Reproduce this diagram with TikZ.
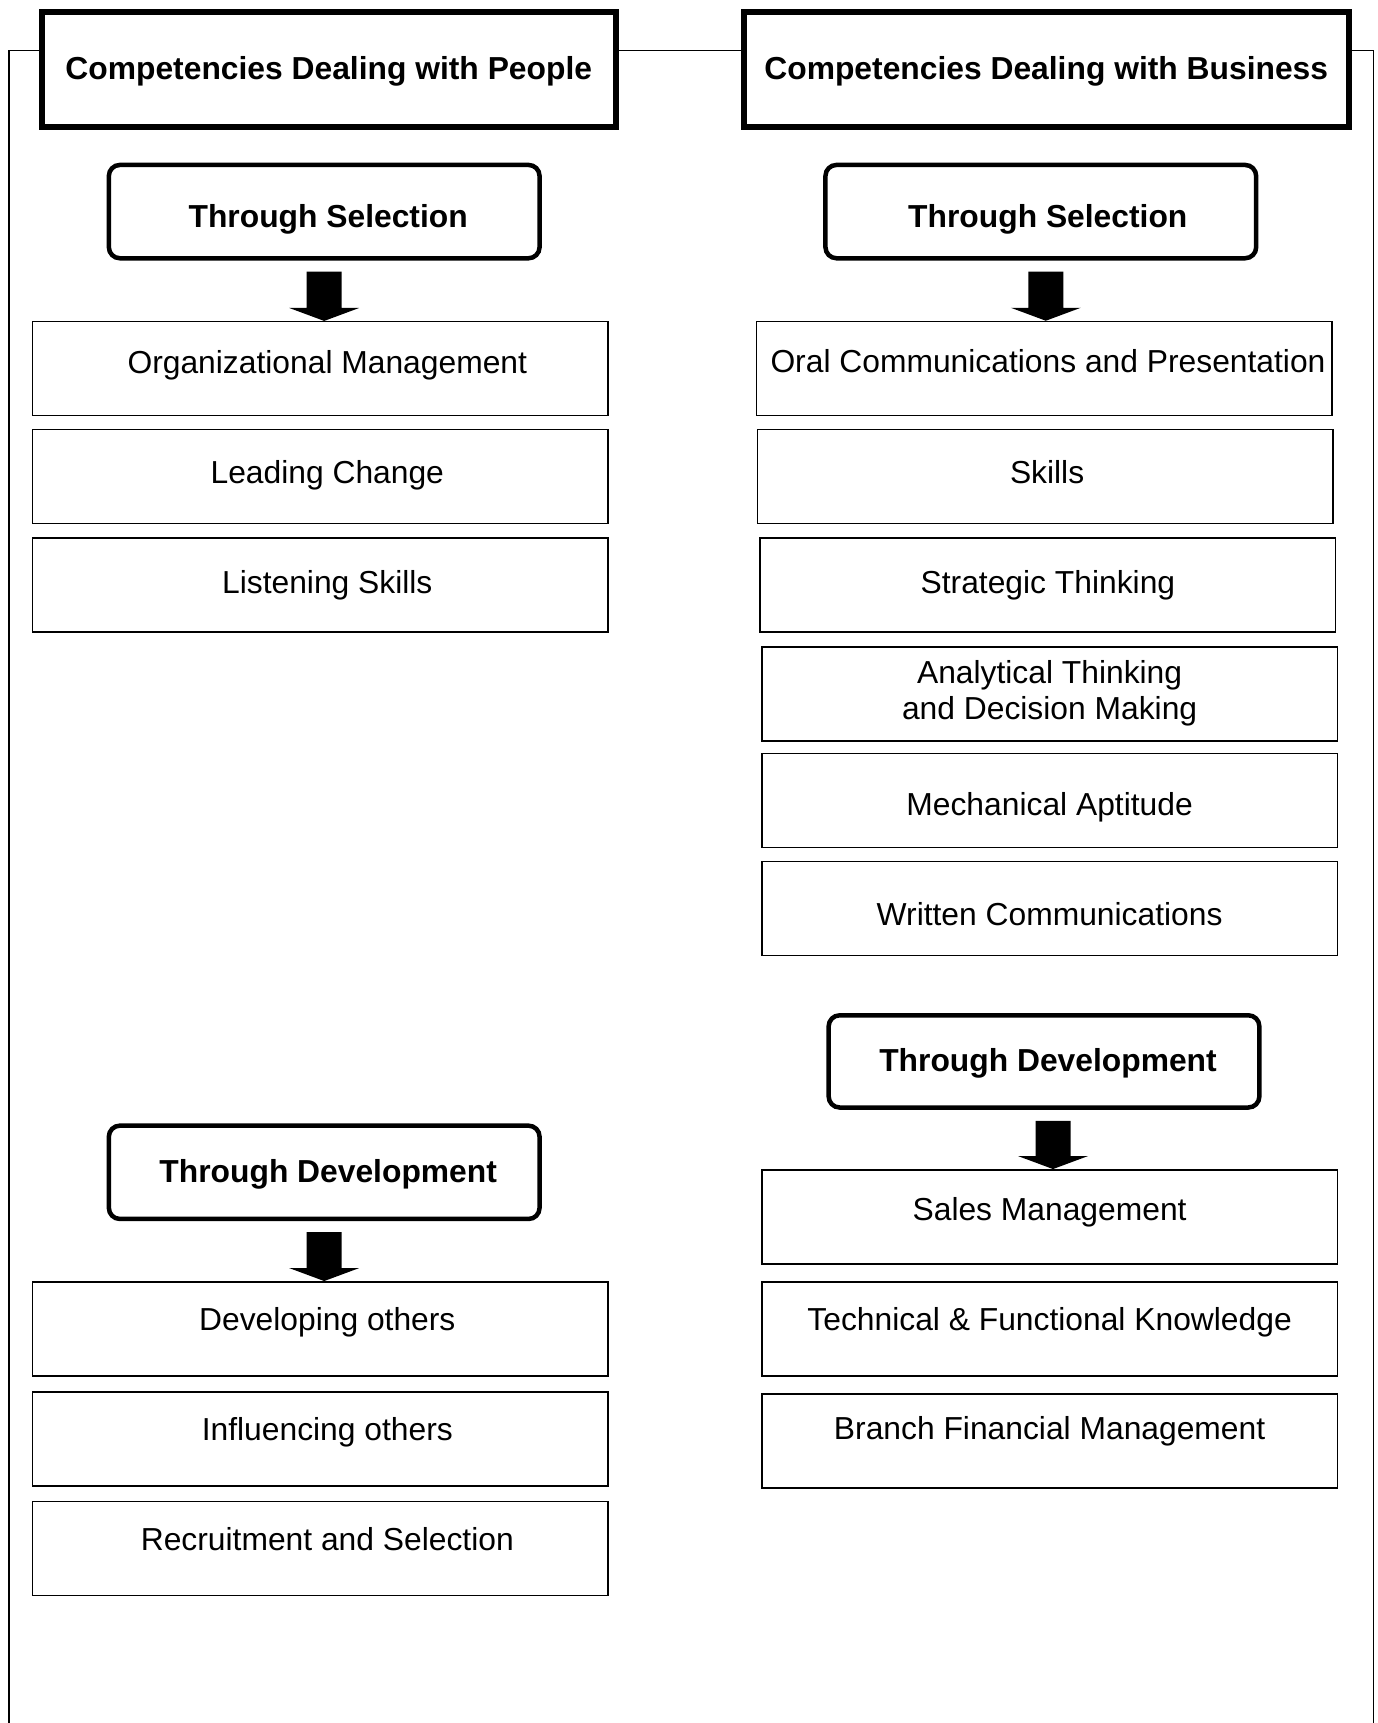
\documentclass[tikz,border=0pt]{standalone}
\usepackage{fontspec}
\setmainfont{Liberation Sans}
\usetikzlibrary{calc}
\tikzset{
  every node/.style={font=\fontsize{31.8}{38}\selectfont, align=center, inner sep=0pt},
  bl/.code={\pgfmathsetmacro\myH{30+(#1)}\pgfmathsetmacro\myD{30-(#1)}%
    \edef\mytmp{\noexpand\tikzset{text height=\myH pt,text depth=\myD pt}}\mytmp},
  header/.style={draw, line width=6pt, fill=white, minimum height=115pt, bl=10.3, font=\fontsize{31.8}{38}\selectfont\bfseries},
  stage/.style={draw, line width=4.5pt, rounded corners=11pt, fill=white, minimum width=430.7pt, minimum height=93.3pt, font=\fontsize{31.8}{38}\selectfont\bfseries},
  item/.style={draw, line width=1.5pt, fill=white, minimum width=575.5pt, minimum height=94pt},
  frame/.style={line width=1.3pt}
}
\newcommand\blockarrow[3]{%
  \coordinate (ba-top) at ($(#1.south)+(#3,11)$);
  \coordinate (ba-tip) at (ba-top |- #2.north);
  \fill ($(ba-top)+(-17.5,0)$) -- ($(ba-top)+(17.5,0)$) -- ($(ba-tip)+(17.5,-13)$) -- ($(ba-tip)+(35,-13)$) -- (ba-tip) -- ($(ba-tip)+(-35,-13)$) -- ($(ba-tip)+(-17.5,-13)$) -- cycle;
}
\begin{document}
\begin{tikzpicture}[x=1pt,y=-1pt]
\useasboundingbox (0,0) rectangle (1377,1723);
% outer frame
\coordinate (fbl) at (9,1723);
\coordinate (ftl) at (9,50.5);
\coordinate (ftr) at (1373.5,50.5);
\coordinate (fbr) at (1373.5,1723);
\draw[frame] (fbl) -- (ftl) -- (ftr) -- (fbr);
% headers
\node[header, minimum width=574.5pt] (hp) at (328.75,69.25) {Competencies Dealing with People};
\node[header, minimum width=605pt] (hb) at (1046.25,69.25) {Competencies Dealing with Business};
% left column
\node[stage, bl=15.5] (tsl) at (324.2,211.6) {\hspace*{8pt}Through Selection};
\node[item, bl=4.3] (om) at (320.3,368.7) {\hspace*{14pt}Organizational Management};
\node[item, bl=6.6] (lc) at (320.3,476.7) {\hspace*{14pt}Leading Change};
\node[item, bl=8.3] (ls) at (320.3,585) {\hspace*{14pt}Listening Skills};
\node[stage, bl=10.2] (tdl) at (324.2,1172.3) {\hspace*{8pt}Through Development};
\node[item, bl=1.2] (do) at (320.3,1328.8) {\hspace*{14pt}Developing others};
\node[item, bl=1.2] (io) at (320.3,1438.8) {\hspace*{14pt}Influencing others};
\node[item, bl=1.3] (rs) at (320.3,1548.7) {\hspace*{14pt}Recruitment and Selection};
% right column
\node[stage, bl=15.5] (tsr) at (1040.8,211.6) {\hspace*{14pt}Through Selection};
\node[item, bl=4.4] (oc) at (1044,368.5) {\hspace*{8pt}Oral Communications and Presentation};
\node[item, bl=6.6] (sk) at (1045.1,476.6) {\hspace*{4pt}Skills};
\node[item, bl=8.3] (st) at (1047.9,585.2) {Strategic Thinking};
\node[item, label={[name=atl, yshift=0.5pt, font=\fontsize{31.8}{36.2}\selectfont]center:Analytical Thinking\\and Decision Making}] (at) at (1049.6,693.8) {};
\node[item, bl=14.3] (ma) at (1049.6,800.7) {Mechanical Aptitude};
\node[item, bl=16.3] (wc) at (1049.6,908.7) {Written Communications};
\node[stage, bl=10.4, minimum height=92.2pt] (tdr) at (1044,1061.4) {\hspace*{8pt}Through Development};
\node[item, bl=3.2] (sm) at (1049.6,1216.8) {Sales Management};
\node[item, bl=1.2] (tf) at (1049.6,1328.8) {Technical \& Functional Knowledge};
\node[item, bl=-1.5] (bf) at (1049.6,1440.8) {Branch Financial Management};
% arrows
\blockarrow{tsl}{om}{0}
\blockarrow{tdl}{do}{0}
\blockarrow{tsr}{oc}{5}
\blockarrow{tdr}{sm}{9}
\end{tikzpicture}
\end{document}
